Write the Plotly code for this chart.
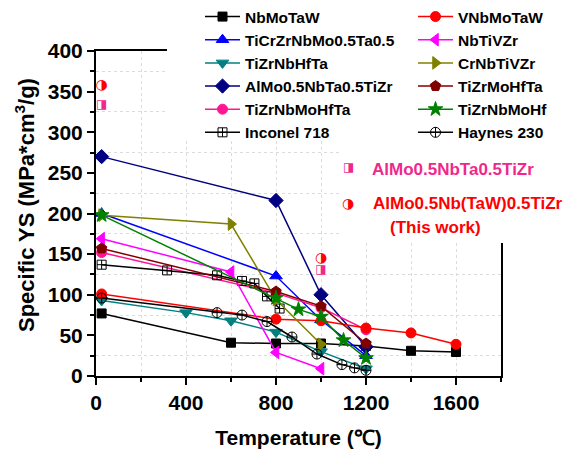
import plotly.graph_objects as go

# ---------------- data ----------------
t_nbmotaw = [25, 600, 800, 1000, 1200, 1400, 1600]
v_nbmotaw = [77, 41, 40, 40, 37, 31, 29.5]

t_vnbmotaw = [25, 800, 1000, 1200, 1400, 1600]
v_vnbmotaw = [101, 70, 68, 59, 53, 39]

t_ticrzr = [25, 800, 1000, 1200]
v_ticrzr = [200, 123, 69, 25]

t_nbtivzr = [25, 600, 800, 1000]
v_nbtivzr = [169, 128, 29, 9]

t_tizrnbhfta = [25, 400, 600, 800, 1000, 1200]
v_tizrnbhfta = [93, 78, 68, 54, 30, 9]

t_crnbtivzr = [25, 600, 800, 1000]
v_crnbtivzr = [198, 187, 94, 39]

t_almo = [25, 800, 1000, 1200]
v_almo = [270, 216, 100, 36]

t_tizrmohfta = [25, 800, 1000, 1200]
v_tizrmohfta = [157, 104, 86, 40]

t_tizrnbmohfta = [25, 800, 1000, 1200]
v_tizrnbmohfta = [152, 102, 84, 57]

t_tizrnbmohf = [25, 800, 900, 1000, 1100, 1200]
v_tizrnbmohf = [198, 96, 82, 73, 44, 22]

t_inconel = [25, 316, 538, 649, 704, 760, 816]
v_inconel = [137, 130, 124, 117, 114, 98, 83]

t_haynes = [25, 538, 649, 760, 871, 982, 1093, 1149, 1200]
v_haynes = [96, 78, 75, 67, 48, 27, 14, 10, 7]

# highlighted alloys (half-filled symbols)
t_ref_alloy = [25, 1000]
v_ref_alloy = [333, 130]
t_this_work = [25, 1000]
v_this_work = [357, 145]

x_ticks = [0, 400, 800, 1200, 1600]
y_ticks = [0, 50, 100, 150, 200, 250, 300, 350, 400]

# ---------------- figure ----------------
W, H = 576, 451
ML, MR, MT, MB = 96, 75, 51, 75
PW, PH = W - ML - MR, H - MT - MB

def px(xp):
    return (xp - ML) / PW

def py(yp):
    return (H - MB - yp) / PH

def cx(xp):
    return xp / W

def cy(yp):
    return 1 - yp / H

FONT = "Liberation Sans"

fig = go.Figure()

series = [
    ("NbMoTaW", t_nbmotaw, v_nbmotaw, "#000000", "square", "legend", 9),
    ("TiCrZrNbMo0.5Ta0.5", t_ticrzr, v_ticrzr, "#0000FF", "triangle-up", "legend", 11),
    ("TiZrNbHfTa", t_tizrnbhfta, v_tizrnbhfta, "#008080", "triangle-down", "legend", 11),
    ("AlMo0.5NbTa0.5TiZr", t_almo, v_almo, "#000080", "diamond", "legend", 11),
    ("TiZrNbMoHfTa", t_tizrnbmohfta, v_tizrnbmohfta, "#FF1493", "circle", "legend", 10),
    ("Inconel 718", t_inconel, v_inconel, "#000000", "square-cross-open", "legend", 9),
    ("VNbMoTaW", t_vnbmotaw, v_vnbmotaw, "#FF0000", "circle", "legend2", 10),
    ("NbTiVZr", t_nbtivzr, v_nbtivzr, "#FF00FF", "triangle-left", "legend2", 11),
    ("CrNbTiVZr", t_crnbtivzr, v_crnbtivzr, "#808000", "triangle-right", "legend2", 11),
    ("TiZrMoHfTa", t_tizrmohfta, v_tizrmohfta, "#800000", "pentagon", "legend2", 11),
    ("TiZrNbMoHf", t_tizrnbmohf, v_tizrnbmohf, "#008000", "star", "legend2", 11),
    ("Haynes 230", t_haynes, v_haynes, "#000000", "circle-cross-open", "legend2", 10),
]

for name, t, v, col, sym, leg, size in series:
    fig.add_trace(go.Scatter(
        x=t, y=v, name=name, mode="lines+markers", legend=leg,
        line=dict(color=col, width=1.5),
        marker=dict(symbol=sym, size=size, color=col,
                    line=dict(color=col, width=1)),
    ))

fig.add_trace(go.Scatter(
    x=t_ref_alloy, y=v_ref_alloy, mode="text", text=["◨"] * len(t_ref_alloy),
    textfont=dict(family="DejaVu Sans", size=12, color="#F0288C"),
    showlegend=False, cliponaxis=False))
fig.add_trace(go.Scatter(
    x=t_this_work, y=v_this_work, mode="text", text=["◑"] * len(t_this_work),
    textfont=dict(family="DejaVu Sans", size=14, color="#FF0000"),
    showlegend=False, cliponaxis=False))

# white masks where the legend / labels sit
fig.add_shape(type="rect", xref="paper", yref="paper",
              x0=px(167), x1=px(576), y0=py(140), y1=py(0),
              fillcolor="white", line=dict(width=0), layer="above")
fig.add_shape(type="rect", xref="paper", yref="paper",
              x0=px(340), x1=px(576), y0=py(243), y1=py(139),
              fillcolor="white", line=dict(width=0), layer="above")

ann_font = dict(family=FONT, size=17, weight="bold")
fig.add_annotation(xref="paper", yref="paper", x=px(348), y=py(158), text="◨",
                   showarrow=False, font=dict(family="DejaVu Sans", size=12, color="#F0288C"))
fig.add_annotation(xref="paper", yref="paper", x=px(370), y=py(158), xanchor="left",
                   text="AlMo0.5NbTa0.5TiZr", showarrow=False,
                   font=dict(ann_font, color="#F0288C"))
fig.add_annotation(xref="paper", yref="paper", x=px(348), y=py(203), text="◑",
                   showarrow=False, font=dict(family="DejaVu Sans", size=14, color="#FF0000"))
fig.add_annotation(xref="paper", yref="paper", x=px(371), y=py(203), xanchor="left",
                   text="AlMo0.5Nb(TaW)0.5TiZr", showarrow=False,
                   font=dict(ann_font, color="#FF0000"))
fig.add_annotation(xref="paper", yref="paper", x=px(435), y=py(227), xanchor="center",
                   text="(This work)", showarrow=False,
                   font=dict(ann_font, color="#FF0000"))

# y-axis title
fig.add_annotation(xref="paper", yref="paper", x=px(25), y=py(205),
                   xanchor="center", yanchor="middle",
                   text="<b>Specific YS (MPa*cm<sup>3</sup>/g)</b>", textangle=-90,
                   showarrow=False, font=dict(family=FONT, size=22, weight="bold", color="black"))

leg_common = dict(font=dict(family=FONT, size=15.5, color="black", weight="bold"),
                  bgcolor="rgba(0,0,0,0)", borderwidth=0, itemwidth=35,
                  xref="container", yref="container",
                  yanchor="top", xanchor="left", tracegroupgap=0)

tick_font = dict(family=FONT, size=21, weight="bold", color="black")

fig.update_layout(
    width=W, height=H,
    margin=dict(l=ML, r=MR, t=MT, b=MB, autoexpand=False),
    paper_bgcolor="white", plot_bgcolor="white",
    font=dict(family=FONT, color="black"),
    legend=dict(leg_common, x=cx(200), y=cy(-1)),
    legend2=dict(leg_common, x=cx(413), y=cy(-1)),
    xaxis=dict(
        range=[0, 1800], tickvals=x_ticks, ticktext=[f"<b>{v}</b>" for v in x_ticks],
        automargin=False,
        showline=True, linecolor="black", linewidth=2, mirror=True,
        ticks="outside", ticklen=7, tickwidth=2, tickcolor="black",
        tickfont=tick_font,
        showgrid=True, gridcolor="#dcdcdc", griddash="dot", gridwidth=1,
        minor=dict(dtick=200, tick0=0, ticks="outside", ticklen=4, tickwidth=1.5,
                   tickcolor="black", showgrid=True, gridcolor="#dcdcdc", griddash="dot"),
        zeroline=False,
        title=dict(text="<b>Temperature (℃)</b>",
                   font=dict(family=FONT, size=21, weight="bold"), standoff=17),
    ),
    yaxis=dict(
        range=[0, 400], tickvals=y_ticks, ticktext=[f"<b>{v}</b>" for v in y_ticks],
        automargin=False,
        showline=True, linecolor="black", linewidth=2, mirror=True,
        ticks="outside", ticklen=7, tickwidth=2, tickcolor="black",
        tickfont=tick_font,
        showgrid=False,
        minor=dict(dtick=50, tick0=25, ticks="outside", ticklen=4, tickwidth=1.5,
                   tickcolor="black", showgrid=True, gridcolor="#dcdcdc", griddash="dot"),
        zeroline=False,
    ),
)

fig.write_html("out.html")
